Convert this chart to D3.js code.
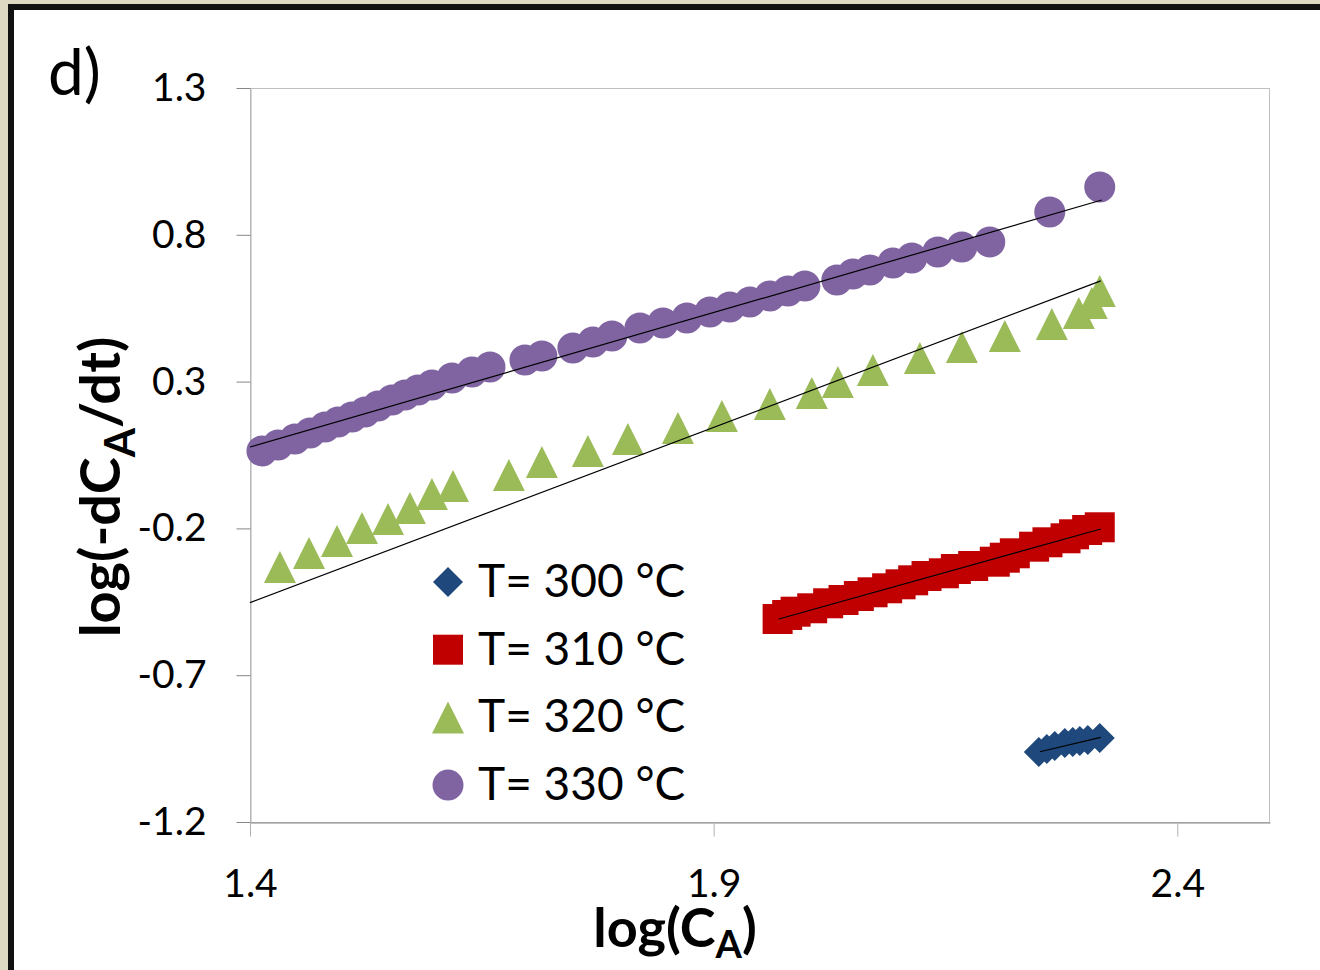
<!DOCTYPE html>
<html>
<head>
<meta charset="utf-8">
<script src="https://cdn.jsdelivr.net/npm/d3@7"></script>
<style>
  html, body { margin: 0; padding: 0; background: #ddd9c3; }
  svg { display: block; }
  text { font-family: Lato, "Noto Sans", sans-serif; fill: #000; }
</style>
</head>
<body>
<div id="chart"></div>
<script>
"use strict";
// axis ticks
const xTicks = [1.4, 1.9, 2.4];
const yTicks = [1.3, 0.8, 0.3, -0.2, -0.7, -1.2];

// series
const seriesNames = ["T= 300 °C", "T= 310 °C", "T= 320 °C", "T= 330 °C"];
const seriesColors = ["#1f497d", "#c00000", "#9bbb59", "#8064a2"];
const seriesShapes = ["diamond", "square", "triangle", "circle"];

const x300 = [2.2507, 2.2593, 2.2679, 2.2787, 2.2873, 2.2949, 2.3035, 2.3164];
const y300 = [-0.9616, -0.9514, -0.9412, -0.9310, -0.9276, -0.9241, -0.9207, -0.9139];
const fit300X = [2.2518, 2.3175];
const fit300Y = [-0.9606, -0.9115];

const x310 = [1.9690, 1.9793, 1.9884, 2.0063, 2.0235, 2.0401, 2.0566, 2.0714, 2.0871, 2.1016, 2.1152, 2.1296,
              2.1483, 2.1612, 2.1799, 2.2032, 2.2140, 2.2248, 2.2456, 2.2600, 2.2795, 2.2887, 2.3028, 2.3164];
const y310 = [-0.5086, -0.4950, -0.4837, -0.4721, -0.4551, -0.4439, -0.4302, -0.4176, -0.4040, -0.3904, -0.3768, -0.3621,
              -0.3529, -0.3383, -0.3281, -0.3134, -0.2998, -0.2848, -0.2623, -0.2473, -0.2337, -0.2201, -0.2054, -0.1962];
const fit310X = [1.9703, 2.3175];
const fit310Y = [-0.5086, -0.2020];

const x320 = [1.4323, 1.4636, 1.4938, 1.5208, 1.5488, 1.5725, 1.5962, 1.6189, 1.6792, 1.7148, 1.7644, 1.8075, 1.8615,
              1.9089, 1.9606, 2.0059, 2.0340, 2.0717, 2.1224, 2.1677, 2.2140, 2.2647, 2.2938, 2.3078, 2.3164];
const y320 = [-0.3315, -0.2838, -0.2429, -0.1986, -0.1680, -0.1305, -0.0828, -0.0556, -0.0181, 0.0262, 0.0636, 0.1045, 0.1420,
              0.1828, 0.2237, 0.2612, 0.2986, 0.3395, 0.3804, 0.4178, 0.4553, 0.4962, 0.5337, 0.5677, 0.6086];
const fit320X = [1.4, 2.3175];
const fit320Y = [-0.4530, 0.6430];

const x330 = [1.4129, 1.4302, 1.4485, 1.4647, 1.4809, 1.4949, 1.5100, 1.5240, 1.5380, 1.5531, 1.5671, 1.5811, 1.5962,
              1.6178, 1.6394, 1.6588, 1.6965, 1.7148, 1.7482, 1.7698, 1.7903, 1.8205, 1.8453, 1.8712, 1.8960, 1.9175,
              1.9391, 1.9606, 1.9801, 1.9984, 2.0329, 2.0501, 2.0685, 2.0933, 2.1137, 2.1418, 2.1677, 2.1978, 2.2625, 2.3164];
const y330 = [0.0636, 0.0840, 0.1045, 0.1249, 0.1454, 0.1624, 0.1794, 0.1965, 0.2169, 0.2373, 0.2544, 0.2714, 0.2884,
              0.3123, 0.3327, 0.3497, 0.3736, 0.3872, 0.4144, 0.4349, 0.4553, 0.4826, 0.4996, 0.5166, 0.5371, 0.5541,
              0.5711, 0.5916, 0.6086, 0.6256, 0.6460, 0.6665, 0.6801, 0.7040, 0.7210, 0.7414, 0.7584, 0.7755, 0.8777, 0.9628];
const fit330X = [1.4, 2.3186];
const fit330Y = [0.0772, 0.9185];

(function(){
    const measurements = {
        width: 1320,
        height: 970,
        left: 250,
        right: 1270,
        top: 88,
        bottom: 822
    }

    const series = [
        { xs: x300, ys: y300, fx: fit300X, fy: fit300Y },
        { xs: x310, ys: y310, fx: fit310X, fy: fit310Y },
        { xs: x320, ys: y320, fx: fit320X, fy: fit320Y },
        { xs: x330, ys: y330, fx: fit330X, fy: fit330Y }
    ].map((s, i) => ({
        name: seriesNames[i],
        color: seriesColors[i],
        shape: seriesShapes[i],
        points: s.xs.map((x, j) => ({ x: x, y: s.ys[j] })),
        fit: s.fx.map((x, j) => ({ x: x, y: s.fy[j] }))
    }))

    const svg = d3.select("#chart").append("svg")
        .attr("width", measurements.width)
        .attr("height", measurements.height)

    // outer frame (cropped picture border)
    svg.append("rect").attr("x", 0).attr("y", 0)
        .attr("width", measurements.width).attr("height", measurements.height)
        .attr("fill", "#ddd9c3")
    svg.append("rect").attr("x", 8).attr("y", 4)
        .attr("width", measurements.width - 8).attr("height", measurements.height - 4)
        .attr("fill", "#111")
    svg.append("rect").attr("x", 14).attr("y", 10)
        .attr("width", measurements.width - 14).attr("height", measurements.height - 10)
        .attr("fill", "#fff")

    const x = d3.scaleLinear().domain([1.4, 2.5]).range([measurements.left, measurements.right])
    const y = d3.scaleLinear().domain([-1.2, 1.3]).range([measurements.bottom, measurements.top])

    // plot area border
    svg.append("rect")
        .attr("x", measurements.left + 0.5).attr("y", measurements.top + 0.5)
        .attr("width", measurements.right - 1 - measurements.left).attr("height", measurements.bottom - measurements.top)
        .attr("fill", "none").attr("stroke", "#c0c0c0")

    //Axes
    const fmt = d => d.toFixed(1)
    const yAxis = svg.append("g")
        .attr("transform", `translate(${measurements.left + 0.5},0)`)
        .call(d3.axisLeft(y).tickValues(yTicks).tickFormat(fmt).tickSize(14).tickSizeOuter(0).tickPadding(30))
    yAxis.select(".domain").attr("stroke", "#b0b0b0")
    yAxis.selectAll(".tick line").attr("stroke", "#868686")
    yAxis.selectAll("text").attr("font-size", 39).attr("font-family", "Lato").attr("dy", "0.32em")

    const xAxis = svg.append("g")
        .attr("transform", `translate(0,${measurements.bottom + 0.5})`)
        .call(d3.axisBottom(x).tickValues(xTicks).tickFormat(fmt).tickSize(14).tickSizeOuter(0).tickPadding(33))
    xAxis.select(".domain").attr("stroke", "#868686")
    xAxis.selectAll(".tick line").attr("stroke", "#b0b0b0")
    xAxis.selectAll("text").attr("font-size", 39).attr("font-family", "Lato")

    //Marker shapes, centred on their bounding box
    function shapePath(shape) {
        switch (shape) {
            case "diamond": return "M0,-15L15,0L0,15L-15,0Z"
            case "square": return "M-15,-15H15V15H-15Z"
            case "triangle": return "M0,-16L16,16H-16Z"
            default: return d3.symbol(d3.symbolCircle, Math.PI * 15.5 * 15.5)()
        }
    }

    const marks = svg.append("g")
    series.forEach(s => {
        marks.append("g").selectAll("path")
            .data(s.points)
            .enter()
            .append("path")
                .attr("d", shapePath(s.shape))
                .attr("transform", d => `translate(${x(d.x)},${y(d.y)})`)
                .attr("fill", s.color)
    })

    //Trend lines on top of the markers
    const line = d3.line().x(d => x(d.x)).y(d => y(d.y))
    series.forEach(s => {
        svg.append("path")
            .attr("d", line(s.fit))
            .attr("fill", "none")
            .attr("stroke", "#000")
            .attr("stroke-width", 1.2)
    })

    //Legend
    const legend = svg.append("g").attr("transform", "translate(448,582)")
    series.forEach((s, i) => {
        const row = legend.append("g").attr("transform", `translate(0,${i * 67.7})`)
        row.append("path").attr("d", shapePath(s.shape)).attr("fill", s.color)
        row.append("text").attr("x", 30).attr("y", 15)
            .attr("font-size", 46).text(s.name)
    })

    //Panel label
    svg.append("text").attr("x", 48).attr("y", 95).attr("font-size", 64).text("d)")

    //Axis titles
    const xt = svg.append("text")
        .attr("x", 675).attr("y", 947)
        .attr("text-anchor", "middle").attr("font-size", 54).attr("font-weight", "bold")
    xt.append("tspan").text("log(C")
    xt.append("tspan").attr("font-size", 38).attr("dy", 11).text("A")
    xt.append("tspan").attr("dy", -11).text(")")

    const yt = svg.append("text")
        .attr("transform", "translate(120,487) rotate(-90)")
        .attr("text-anchor", "middle").attr("font-size", 56).attr("font-weight", "bold")
    yt.append("tspan").text("log(-dC")
    yt.append("tspan").attr("font-size", 42).attr("dy", 15).text("A")
    yt.append("tspan").attr("dy", -15).text("/dt)")
})()
</script>
</body>
</html>
